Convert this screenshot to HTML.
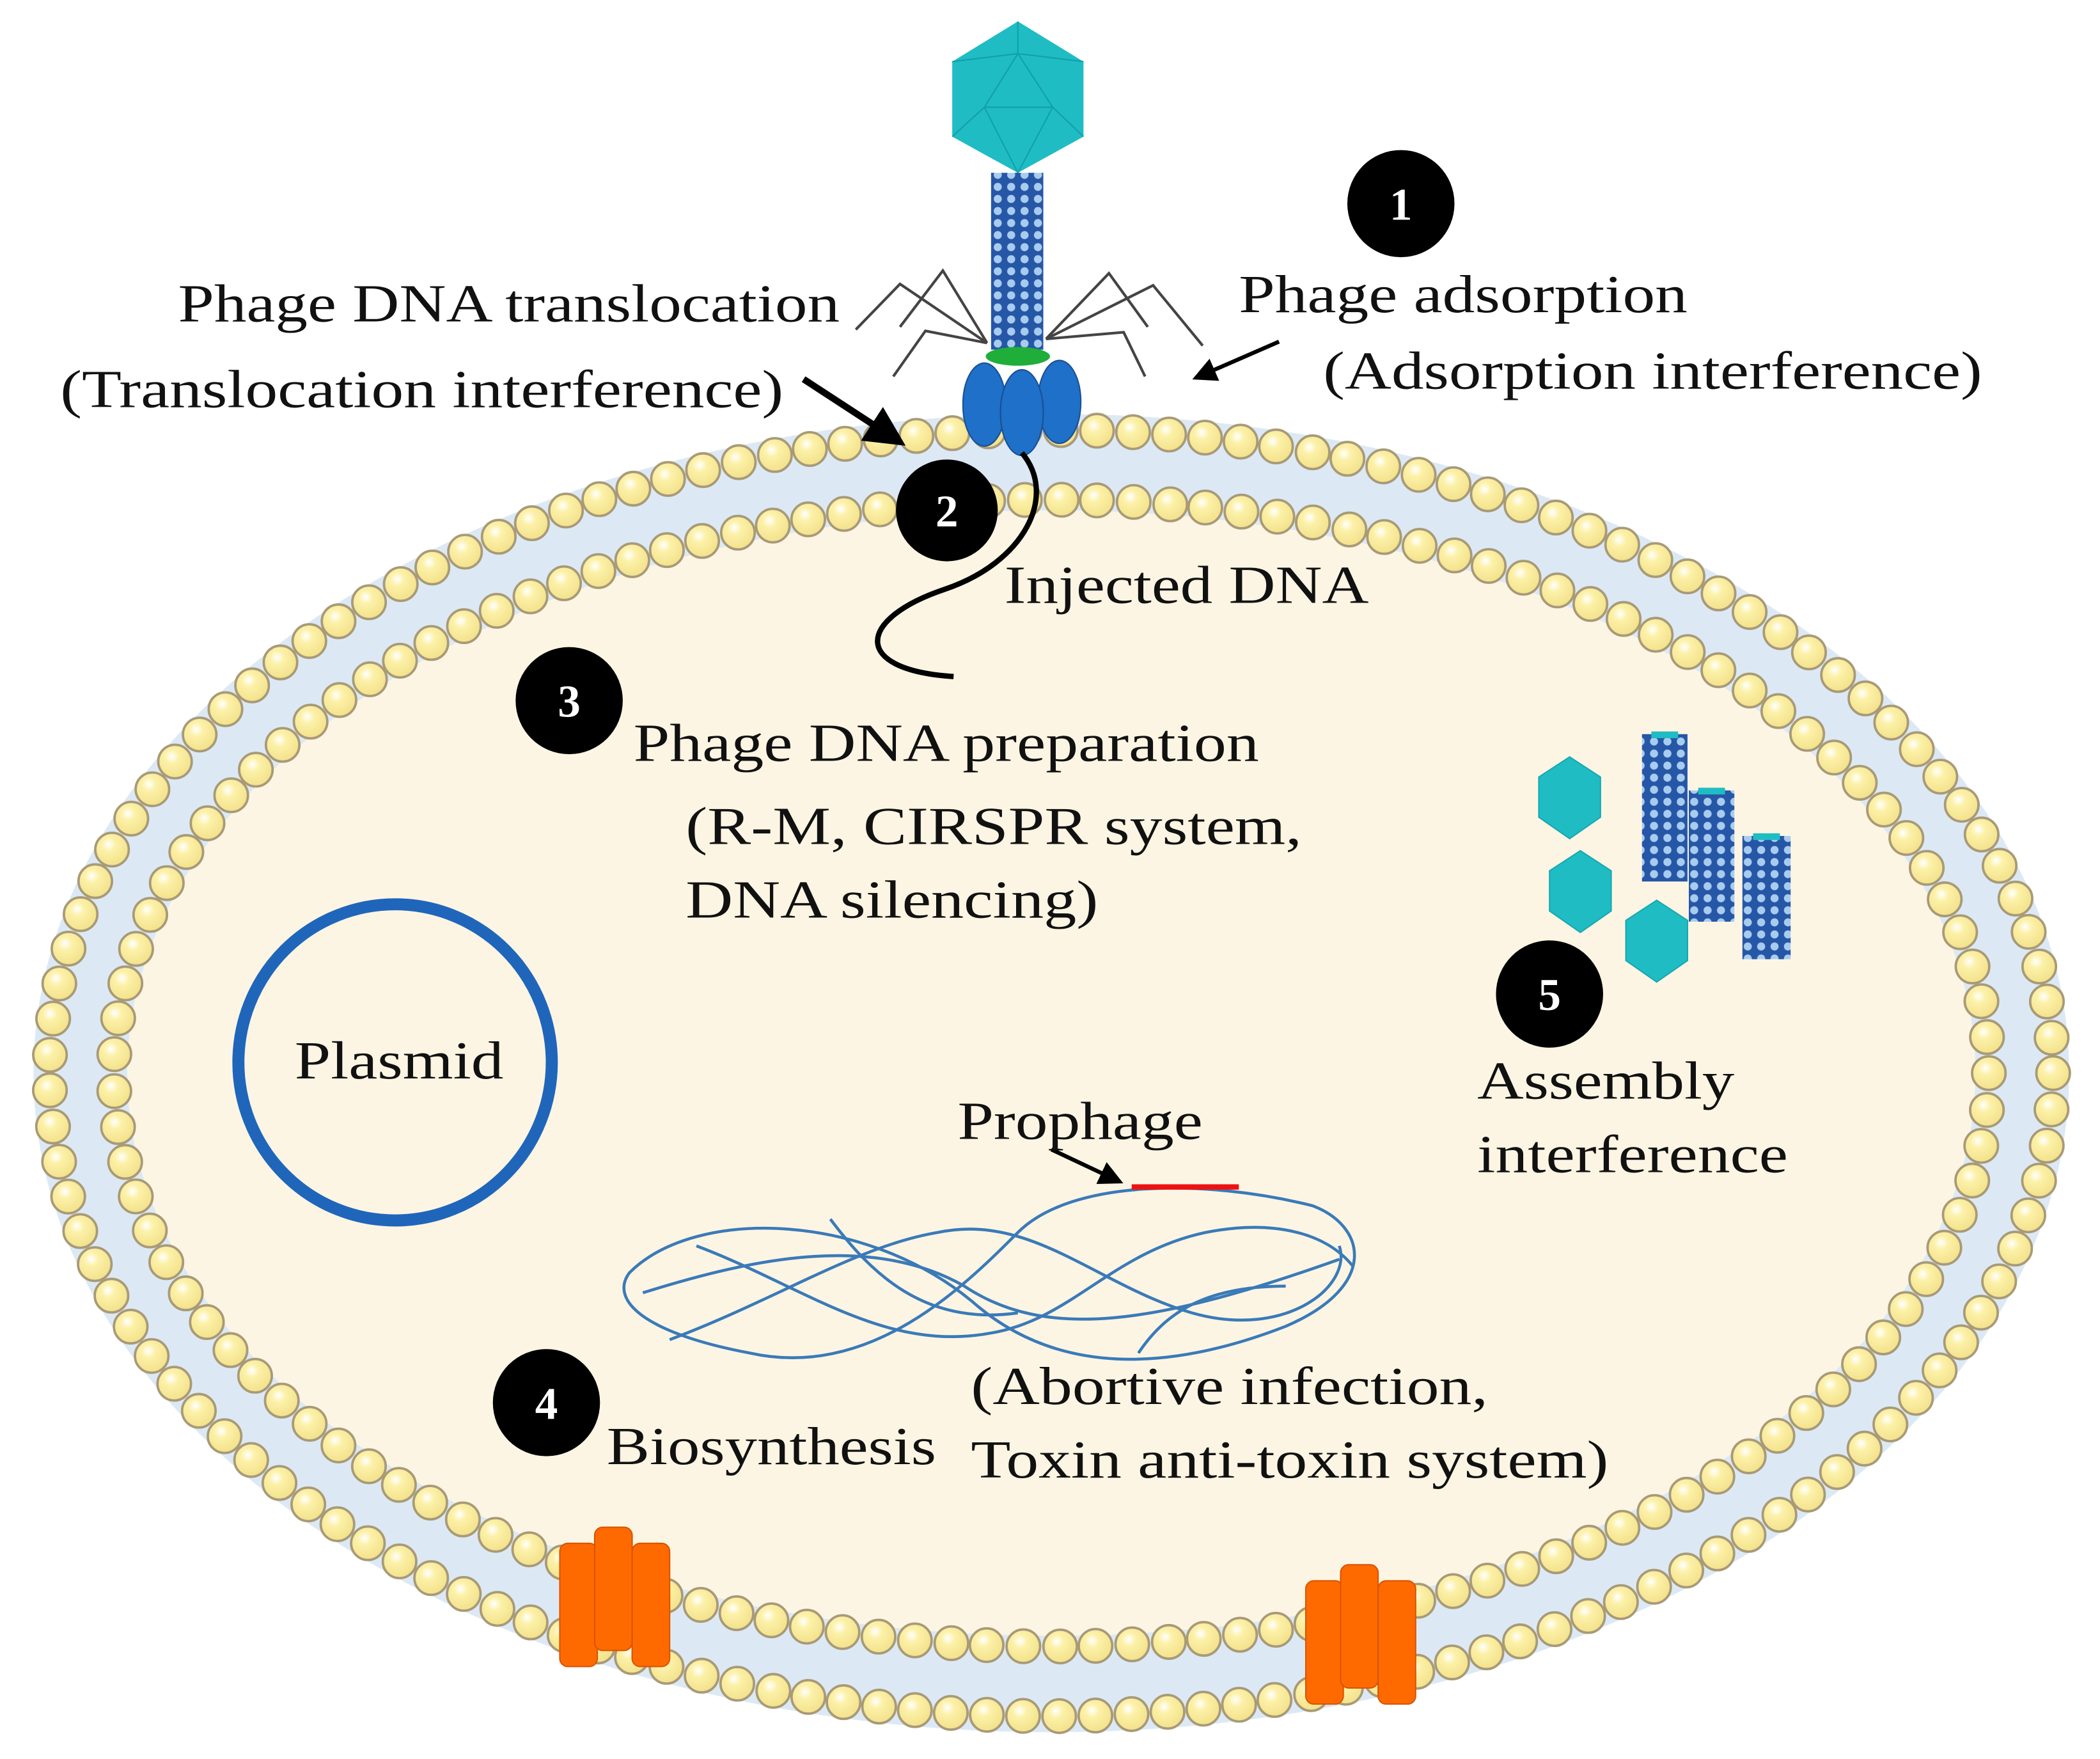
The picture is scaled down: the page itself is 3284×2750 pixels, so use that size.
<!DOCTYPE html>
<html><head><meta charset="utf-8"><style>
html,body{margin:0;padding:0;background:#fff;}
svg{display:block;}
text{font-family:"Liberation Serif",serif;fill:#111;}
</style></head><body>
<svg id="s" width="3284" height="2750" viewBox="0 0 1568 1313" preserveAspectRatio="none" xmlns="http://www.w3.org/2000/svg">
<defs>
<pattern id="tail" patternUnits="userSpaceOnUse" width="10" height="9">
<rect width="10" height="9" fill="#2656a6"/>
<circle cx="5" cy="4.5" r="3" fill="#a8ccf0"/>
</pattern>
<radialGradient id="head" cx="0.4" cy="0.35" r="0.7">
<stop offset="0" stop-color="#ffffff"/><stop offset="0.3" stop-color="#fcf1a8"/><stop offset="1" stop-color="#f2e088"/>
</radialGradient>
<marker id="ah" markerWidth="6" markerHeight="6" refX="5" refY="3" orient="auto" markerUnits="strokeWidth"><path d="M0,0 L6,3 L0,6 Z" fill="#000"/></marker>
</defs>
<rect width="1568" height="1313" fill="#fff"/>
<ellipse cx="785" cy="801" rx="760" ry="492" fill="#dce9f5"/>
<ellipse cx="785" cy="801" rx="690" ry="420" fill="#fdf5e3"/>
<g id="heads"></g>
<g fill="#ff6a00" stroke="#d85400" stroke-width="1">
<rect x="418" y="1152" width="28" height="92" rx="6"/><rect x="444" y="1140" width="28" height="92" rx="6"/><rect x="472" y="1152" width="28" height="92" rx="6"/>
<rect x="975" y="1180" width="28" height="92" rx="6"/><rect x="1001" y="1168" width="28" height="92" rx="6"/><rect x="1029" y="1180" width="28" height="92" rx="6"/>
</g>
<g stroke="#444" stroke-width="2" fill="none">
<polyline points="737,256 704,202 672,244"/><polyline points="737,256 672,212 639,246"/><polyline points="737,256 691,247 667,281"/>
<polyline points="781,253 828,204 857,244"/><polyline points="781,253 861,213 898,258"/><polyline points="781,253 839,248 855,281"/>
</g>
<polygon points="760,16 809,46 809,102 760,129 711,102 711,46" fill="#1fbcc4"/>
<g stroke="#12a0a8" stroke-width="1" fill="none">
<polyline points="711,46 760,40 809,46"/><polyline points="735,80 760,40 786,80 735,80"/><polyline points="711,102 735,80 760,129 786,80 809,102"/><line x1="760" y1="16" x2="760" y2="40"/>
</g>
<rect x="740" y="129" width="39" height="132" fill="url(#tail)"/>
<ellipse cx="760" cy="266" rx="24" ry="7" fill="#1fae3a"/>
<g fill="#1e70c8" stroke="#1a4f95" stroke-width="1">
<ellipse cx="735" cy="302" rx="16" ry="31"/><ellipse cx="791" cy="300" rx="16" ry="31"/><ellipse cx="763" cy="308" rx="16" ry="32"/>
</g>
<path d="M763,338 C790,370 765,420 705,440 C640,462 635,500 712,505" stroke="#000" stroke-width="4" fill="none"/>
<line x1="955" y1="255" x2="893" y2="282" stroke="#000" stroke-width="3" marker-end="url(#ah)"/>
<line x1="600" y1="283" x2="672" y2="330" stroke="#000" stroke-width="5" marker-end="url(#ah)"/>
<ellipse cx="295" cy="793" rx="117" ry="118" fill="none" stroke="#1f66bb" stroke-width="9"/>
<g stroke="#3a7ab8" stroke-width="2.2" fill="none">
<path d="M470,950 C520,900 650,905 730,975 C790,1025 870,1025 960,990 C1030,960 1020,915 980,900 C900,880 800,880 760,920 C720,960 650,1030 560,1010 C480,995 455,970 470,950 Z"/>
<path d="M480,965 C560,940 650,920 720,960 C780,1000 860,990 1000,940"/>
<path d="M500,1000 C580,970 640,930 700,920 C770,905 820,960 890,980 C960,1000 1010,960 1000,930"/>
<path d="M520,930 C600,960 660,1010 740,995 C800,985 830,935 900,920 C950,910 990,920 1010,945"/>
<path d="M620,910 C650,950 690,990 760,980"/>
<path d="M850,1010 C870,980 900,960 960,960"/>
</g>
<line x1="845" y1="886" x2="925" y2="886" stroke="#ee1111" stroke-width="4"/>
<line x1="785" y1="858" x2="836" y2="882" stroke="#000" stroke-width="3" marker-end="url(#ah)"/>
<g fill="#1fbcc4" stroke="#16a8b0" stroke-width="1">
<polygon points="1172,565 1195,580 1195,610 1172,626 1149,610 1149,580"/>
<polygon points="1180,635 1203,650 1203,680 1180,696 1157,680 1157,650"/>
<polygon points="1237,672 1260,687 1260,717 1237,733 1214,717 1214,687"/>
</g>
<g>
<rect x="1226" y="548" width="34" height="110" fill="url(#tail)"/><rect x="1261" y="590" width="34" height="98" fill="url(#tail)"/><rect x="1301" y="624" width="36" height="92" fill="url(#tail)"/>
<rect x="1233" y="546" width="20" height="5" fill="#1fbcc4"/><rect x="1268" y="588" width="20" height="5" fill="#1fbcc4"/><rect x="1309" y="622" width="20" height="5" fill="#1fbcc4"/>
</g>
<g fill="#000">
<circle cx="1046" cy="152" r="40"/><circle cx="707" cy="381" r="38"/><circle cx="425" cy="523" r="40"/><circle cx="408" cy="1047" r="40"/><circle cx="1157" cy="742" r="40"/>
</g>
<g font-size="34" font-weight="bold" text-anchor="middle">
<text x="1046" y="164" style="fill:#fff">1</text><text x="707" y="393" style="fill:#fff">2</text><text x="425" y="535" style="fill:#fff">3</text><text x="408" y="1059" style="fill:#fff">4</text><text x="1157" y="754" style="fill:#fff">5</text>
</g>
<g font-size="40">
<text x="133" y="240" textLength="494" lengthAdjust="spacingAndGlyphs">Phage DNA translocation</text>
<text x="45" y="304" textLength="540" lengthAdjust="spacingAndGlyphs">(Translocation interference)</text>
<text x="925" y="233" textLength="335" lengthAdjust="spacingAndGlyphs">Phage adsorption</text>
<text x="988" y="290" textLength="492" lengthAdjust="spacingAndGlyphs">(Adsorption interference)</text>
<text x="750" y="450" textLength="272" lengthAdjust="spacingAndGlyphs">Injected DNA</text>
<text x="473" y="568" textLength="467" lengthAdjust="spacingAndGlyphs">Phage DNA preparation</text>
<text x="512" y="630" textLength="460" lengthAdjust="spacingAndGlyphs">(R-M, CIRSPR system,</text>
<text x="512" y="685" textLength="308" lengthAdjust="spacingAndGlyphs">DNA silencing)</text>
<text x="220" y="805" textLength="156" lengthAdjust="spacingAndGlyphs">Plasmid</text>
<text x="715" y="850" textLength="183" lengthAdjust="spacingAndGlyphs">Prophage</text>
<text x="1103" y="820" textLength="192" lengthAdjust="spacingAndGlyphs">Assembly</text>
<text x="1103" y="875" textLength="232" lengthAdjust="spacingAndGlyphs">interference</text>
<text x="725" y="1048" textLength="386" lengthAdjust="spacingAndGlyphs">(Abortive infection,</text>
<text x="725" y="1103" textLength="476" lengthAdjust="spacingAndGlyphs">Toxin anti-toxin system)</text>
<text x="453" y="1093" textLength="246" lengthAdjust="spacingAndGlyphs">Biosynthesis</text>
</g>
</svg>
<script>
(function(){
var ns="http://www.w3.org/2000/svg",g=document.getElementById("heads");
function ring(rx,ry,sp,r){
 var N=4000,pts=[],L=0,px=0,py=0;
 for(var i=0;i<=N;i++){var t=2*Math.PI*i/N,x=785+rx*Math.cos(t),y=801+ry*Math.sin(t);if(i>0)L+=Math.hypot(x-px,y-py);pts.push([x,y,L]);px=x;py=y;}
 var n=Math.round(L/sp),step=L/n,k=0;
 for(var j=0;j<n;j++){var d=j*step;while(pts[k][2]<d)k++;var p=pts[k];
  var c=document.createElementNS(ns,"circle");c.setAttribute("cx",p[0]);c.setAttribute("cy",p[1]);c.setAttribute("r",r);
  c.setAttribute("fill","url(#head)");c.setAttribute("stroke","#a89a78");c.setAttribute("stroke-width","1.8");g.appendChild(c);}
}
ring(748,480,27,12.5);
ring(700,428,27,12.5);
})();
</script>
</body></html>
